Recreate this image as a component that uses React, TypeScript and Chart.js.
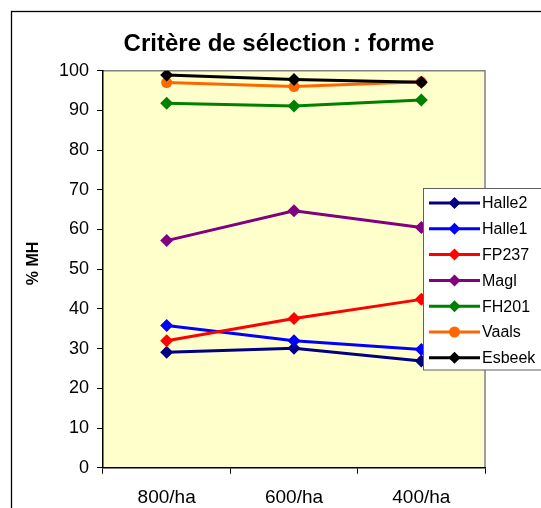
import React, { useEffect, useRef } from "react";
import { Chart, registerables } from "chart.js";

Chart.register(...registerables);

const categories = ["800/ha", "600/ha", "400/ha"];
const seriesNames = ["Halle2", "Halle1", "FP237", "Magl", "FH201", "Vaals", "Esbeek"];
const halle2 = [29.1, 30.1, 26.9];
const halle1 = [35.8, 32.0, 29.8];
const fp237 = [32.0, 37.6, 42.4];
const magl = [57.2, 64.7, 60.5];
const fh201 = [91.8, 91.1, 92.6];
const vaals = [97.0, 96.0, 97.2];
const esbeek = [98.9, 97.8, 97.1];
const seriesColors = ["#000080", "#0000FF", "#FF0000", "#800080", "#008000", "#FF6600", "#000000"];
const seriesPointStyles = ["rectRot", "rectRot", "rectRot", "rectRot", "rectRot", "circle", "rectRot"];
const yTicks = [0, 10, 20, 30, 40, 50, 60, 70, 80, 90, 100];
const titleText = "Critère de sélection : forme";
const yTitle = "% MH";

const FONT = "'Liberation Sans', Arial, sans-serif";

export default function App() {
  const ref = useRef<HTMLCanvasElement | null>(null);

  useEffect(() => {
    const canvas = ref.current;
    if (!canvas) return;
    const values = [halle2, halle1, fp237, magl, fh201, vaals, esbeek];

    const decor = {
      id: "decor",
      beforeDraw(chart: any) {
        const ctx = chart.ctx;
        const a = chart.chartArea;
        ctx.save();
        ctx.fillStyle = "#ffffff";
        ctx.fillRect(0, 0, chart.width, chart.height);
        ctx.fillStyle = "#FFFFCC";
        ctx.fillRect(a.left, a.top, a.right - a.left, a.bottom - a.top);
        ctx.strokeStyle = "#808080";
        ctx.lineWidth = 1.5;
        ctx.beginPath();
        ctx.moveTo(a.left, a.top);
        ctx.lineTo(a.right, a.top);
        ctx.lineTo(a.right, a.bottom);
        ctx.stroke();
        // outer border
        ctx.strokeStyle = "#000000";
        ctx.lineWidth = 1.3;
        ctx.strokeRect(11.5, 11.5, 700, 700);
        // title
        ctx.fillStyle = "#000";
        ctx.font = `bold 24px ${FONT}`;
        ctx.textAlign = "center";
        ctx.textBaseline = "alphabetic";
        ctx.fillText(titleText, 279, 51);
        // y title
        ctx.save();
        ctx.translate(34, 263.5);
        ctx.rotate(-Math.PI / 2);
        ctx.font = `bold 16px ${FONT}`;
        ctx.textAlign = "center";
        ctx.textBaseline = "middle";
        ctx.fillText(yTitle, 0, 0);
        ctx.restore();
        ctx.restore();
      },
      afterDraw(chart: any) {
        const ctx = chart.ctx;
        ctx.save();
        ctx.fillStyle = "#ffffff";
        ctx.fillRect(423.5, 188.5, 200, 181.5);
        ctx.strokeStyle = "#606060";
        ctx.lineWidth = 1;
        ctx.strokeRect(423.5, 188.5, 200, 181.5);
        const y0 = 203;
        const step = 25.8;
        seriesNames.forEach((name, i) => {
          const y = y0 + i * step;
          ctx.strokeStyle = seriesColors[i];
          ctx.lineWidth = 3;
          ctx.beginPath();
          ctx.moveTo(429, y);
          ctx.lineTo(480, y);
          ctx.stroke();
          ctx.fillStyle = seriesColors[i];
          const cx = 454.5;
          const r = 6;
          ctx.beginPath();
          if (seriesPointStyles[i] === "circle") {
            ctx.arc(cx, y, 5.5, 0, Math.PI * 2);
          } else {
            ctx.moveTo(cx, y - r);
            ctx.lineTo(cx + r, y);
            ctx.lineTo(cx, y + r);
            ctx.lineTo(cx - r, y);
            ctx.closePath();
          }
          ctx.fill();
          ctx.fillStyle = "#000";
          ctx.font = `16px ${FONT}`;
          ctx.textAlign = "left";
          ctx.textBaseline = "middle";
          ctx.fillText(name, 482, y + 1);
        });
        ctx.restore();
      },
    };

    const chart = new Chart(canvas, {
      type: "line",
      data: {
        labels: categories,
        datasets: seriesNames.map((name, i) => ({
          label: name,
          data: values[i],
          borderColor: seriesColors[i],
          backgroundColor: seriesColors[i],
          pointBackgroundColor: seriesColors[i],
          pointBorderColor: seriesColors[i],
          pointStyle: seriesPointStyles[i] as any,
          pointRadius: seriesPointStyles[i] === "circle" ? 5.5 : 6.5,
          pointBorderWidth: 0,
          borderWidth: 3,
          tension: 0,
          fill: false,
          order: seriesNames.length - i,
        })),
      },
      options: {
        animation: false,
        responsive: false,
        maintainAspectRatio: false,
        layout: { padding: { left: 0, top: 70.7, right: 56, bottom: 0 } },
        plugins: {
          legend: { display: false },
          title: { display: false },
          tooltip: { enabled: false },
        },
        scales: {
          x: {
            type: "category",
            offset: true,
            grid: {
              offset: true,
              drawOnChartArea: false,
              drawTicks: true,
              tickLength: 6,
              color: "#000",
            },
            border: { color: "#000", width: 1.5 },
            ticks: {
              color: "#000",
              font: { family: FONT, size: 19 },
              padding: 13,
              maxRotation: 0,
            },
            afterFit: (s: any) => {
              s.height = 508 - 467.7;
            },
          },
          y: {
            min: 0,
            max: 100,
            afterBuildTicks: (s: any) => {
              s.ticks = yTicks.map((v) => ({ value: v }));
            },
            grid: {
              drawOnChartArea: false,
              drawTicks: true,
              tickLength: 6,
              color: "#000",
            },
            border: { color: "#000", width: 1.5 },
            ticks: {
              color: "#000",
              font: { family: FONT, size: 18 },
              padding: 8,
            },
            afterFit: (s: any) => {
              s.width = 103;
            },
          },
        },
      },
      plugins: [decor],
    });

    return () => chart.destroy();
  }, []);

  return (
    <div style={{ position: "fixed", left: 0, top: 0, width: 541, height: 508 }}>
      <canvas ref={ref} width={541} height={508} style={{ width: 541, height: 508 }} />
    </div>
  );
}
